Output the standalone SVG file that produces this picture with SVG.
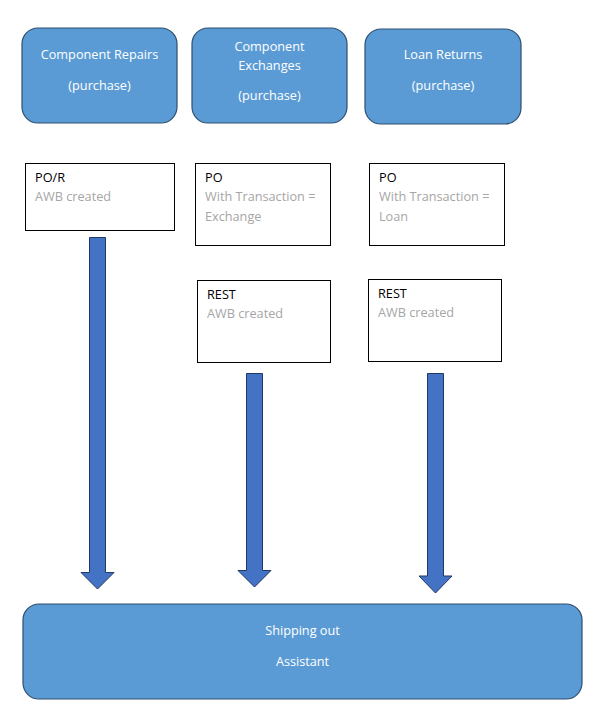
<svg xmlns="http://www.w3.org/2000/svg" width="604" height="712" viewBox="0 0 604 712">
<style>
.top{fill:#5B9BD5;stroke:#2E4F70;stroke-width:1.2}
.wt{fill:#FFFFFF;font-family:"Open Sans","Noto Sans",sans-serif;font-size:12.7px;text-anchor:middle}
.box{fill:#FFFFFF;stroke:#000000;stroke-width:1}
.bt{fill:#000000;font-family:"Open Sans","Noto Sans",sans-serif;font-size:12.7px}
.gt{fill:#A6A6A6;font-family:"Open Sans","Noto Sans",sans-serif;font-size:12.7px}
.arr{fill:#4472C4;stroke:#1F3864;stroke-width:1}
</style>
<rect width="604" height="712" fill="#FFFFFF"/>
<g id="repairs">
<rect class="top" x="22" y="28" width="155" height="95" rx="16"/>
<text class="wt" x="99.5" y="59">Component Repairs</text>
<text class="wt" x="99.5" y="90">(purchase)</text>
</g>
<g id="exchanges">
<rect class="top" x="192" y="28" width="155" height="95" rx="16"/>
<text class="wt" x="269.5" y="51">Component</text>
<text class="wt" x="269.5" y="70">Exchanges</text>
<text class="wt" x="269.5" y="100">(purchase)</text>
</g>
<g id="loans">
<rect class="top" x="365" y="29" width="156" height="95" rx="16"/>
<text class="wt" x="443" y="59">Loan Returns</text>
<text class="wt" x="443" y="90">(purchase)</text>
</g>
<g id="por">
<rect class="box" x="25.5" y="163.5" width="149" height="67"/>
<text class="bt" x="35" y="182">PO/R</text>
<text class="gt" x="35" y="201">AWB created</text>
</g>
<g id="po-exchange">
<rect class="box" x="195.5" y="163.5" width="135" height="82"/>
<text class="bt" x="205" y="182">PO</text>
<text class="gt" x="205" y="201">With Transaction =</text>
<text class="gt" x="205" y="221">Exchange</text>
</g>
<g id="rest-exchange">
<rect class="box" x="197.5" y="280.5" width="133" height="82"/>
<text class="bt" x="207" y="299">REST</text>
<text class="gt" x="207" y="318">AWB created</text>
</g>
<g id="po-loan">
<rect class="box" x="369.5" y="163.5" width="135" height="82"/>
<text class="bt" x="379" y="182">PO</text>
<text class="gt" x="379" y="201">With Transaction =</text>
<text class="gt" x="379" y="221">Loan</text>
</g>
<g id="rest-loan">
<rect class="box" x="368.5" y="279.5" width="133" height="82"/>
<text class="bt" x="378" y="298">REST</text>
<text class="gt" x="378" y="317">AWB created</text>
</g>
<g id="connectors">
<polygon class="arr" points="89.5,237.5 105.5,237.5 105.5,572.5 114,572.5 97.5,589 81,572.5 89.5,572.5"/>
<polygon class="arr" points="246.5,373.5 262.5,373.5 262.5,570.5 271,570.5 254.5,587 238,570.5 246.5,570.5"/>
<polygon class="arr" points="427.5,373.5 443.5,373.5 443.5,576 452,576 435.5,593 419,576 427.5,576"/>
</g>
<g id="shipping">
<rect class="top" x="23" y="604" width="559" height="95" rx="16"/>
<text class="wt" x="302.5" y="635">Shipping out</text>
<text class="wt" x="302.5" y="666">Assistant</text>
</g>
</svg>
